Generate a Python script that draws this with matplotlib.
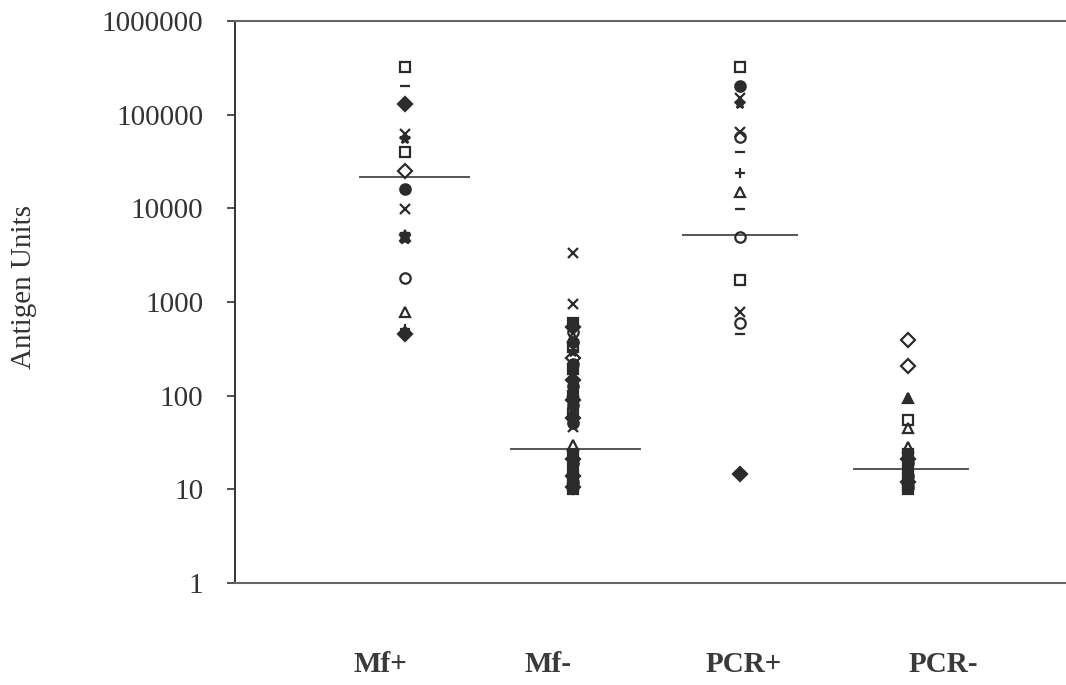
import matplotlib
matplotlib.use("Agg")
import matplotlib.pyplot as plt
from matplotlib.ticker import FixedLocator, NullLocator

plt.rcParams["font.family"] = ["Liberation Serif", "DejaVu Serif"]

# -------------------- data --------------------
groups = ["Mf+", "Mf-", "PCR+", "PCR-"]

mf_pos = [320000, 200000, 130000, 62000, 55000, 40000, 25000, 16000,
          9800, 5200, 4800, 1800, 780, 520, 450]
mf_neg = [3300, 950, 600, 540, 480, 420, 370, 330, 290, 250, 220, 190,
          165, 145, 128, 112, 100, 90, 80, 72, 64, 57, 51, 46, 30,
          24, 21, 19, 17, 15.5, 14, 13, 12, 11, 10.5, 10]
pcr_pos = [320000, 200000, 150000, 130000, 65000, 57000, 40000, 24000,
           15000, 9800, 4900, 1700, 780, 600, 460, 14.5]
pcr_neg = [390, 205, 95, 55, 45, 28, 24, 21, 19, 17, 15.5, 14, 13, 12,
           11, 10.5, 10]

medians = [21500, 27, 5200, 16.5]

y_ticks = [1, 10, 100, 1000, 10000, 100000, 1000000]
y_tick_labels = ["1", "10", "100", "1000", "10000", "100000", "1000000"]

# -------------------- style --------------------
INK = "#2b2b2b"
# marker, filled
MARKS = {
    "Mf+": [("s", 0), ("_", 0), ("D", 1), ("x", 0), ("*", 1), ("s", 0),
            ("D", 0), ("o", 1), ("x", 0), ("*", 1), ("X", 1), ("o", 0),
            ("^", 0), ("+", 0), ("D", 1)],
    "Mf-": [("x", 0), ("x", 0), ("s", 1), ("D", 1), ("o", 0), ("^", 0),
            ("o", 1), ("s", 0), ("*", 1), ("D", 0), ("o", 1), ("s", 1),
            ("x", 0), ("D", 1), ("o", 1), ("^", 1), ("s", 1), ("D", 0),
            ("o", 1), ("*", 1), ("s", 0), ("D", 1), ("o", 1), ("x", 0),
            ("^", 0), ("s", 1), ("D", 1), ("o", 1), ("s", 1), ("*", 1),
            ("D", 1), ("s", 1), ("o", 1), ("s", 1), ("D", 1), ("s", 1)],
    "PCR+": [("s", 0), ("o", 1), ("x", 0), ("*", 1), ("x", 0), ("o", 0),
             ("_", 0), ("+", 0), ("^", 0), ("_", 0), ("o", 0), ("s", 0),
             ("x", 0), ("o", 0), ("_", 0), ("D", 1)],
    "PCR-": [("D", 0), ("D", 0), ("^", 1), ("s", 0), ("^", 0), ("^", 0),
             ("s", 1), ("D", 1), ("o", 1), ("s", 1), ("x", 0), ("o", 1),
             ("s", 1), ("D", 1), ("s", 1), ("o", 1), ("s", 1)],
}
LINE_SPAN = [(-0.27, 0.38), (-0.37, 0.40), (-0.34, 0.34), (-0.32, 0.36)]
LABEL_X = [0.85, 1.85, 3.02, 4.21]

fig = plt.figure(figsize=(10.66, 6.85), dpi=100)
ax = fig.add_axes([0.2205, 0.149, 0.785, 0.8205])

series = [mf_pos, mf_neg, pcr_pos, pcr_neg]
for i, (name, vals) in enumerate(zip(groups, series)):
    xpos = i + 1
    for v, (m, filled) in zip(vals, MARKS[name]):
        ax.plot([xpos], [v], linestyle="none", marker=m, ms=7.5, mew=1.6,
                color=INK, mfc=INK if filled else "none", mec=INK,
                zorder=3)
    lo, hi = LINE_SPAN[i]
    ax.plot([xpos + lo, xpos + hi], [medians[i]] * 2, color="#555555",
            lw=1.4, zorder=2)

ax.set_yscale("log")
ax.set_ylim(1, 1000000)
ax.set_xlim(-0.016, 4.98)
ax.yaxis.set_major_locator(FixedLocator(y_ticks))
ax.yaxis.set_minor_locator(NullLocator())
ax.set_yticklabels(y_tick_labels)
ax.tick_params(axis="y", direction="out", length=6, width=1.2,
               pad=17, labelsize=21, colors="#333333")
ax.set_xticks([])

for s in ["top", "bottom"]:
    ax.spines[s].set_color("#666666")
    ax.spines[s].set_linewidth(1.5)
ax.spines["left"].set_color("#333333")
ax.spines["left"].set_linewidth(1.4)
ax.spines["right"].set_visible(False)

ax.set_ylabel("Antigen Units", fontsize=21, color="#333333")
ax.yaxis.set_label_coords(-0.237, 0.527)

for name, lx in zip(groups, LABEL_X):
    ax.text(lx, -0.145, name, transform=ax.get_xaxis_transform(),
            ha="center", va="center", fontsize=21, fontweight="bold",
            color="#3a3a3a")

fig.savefig("out.png", dpi=100)
